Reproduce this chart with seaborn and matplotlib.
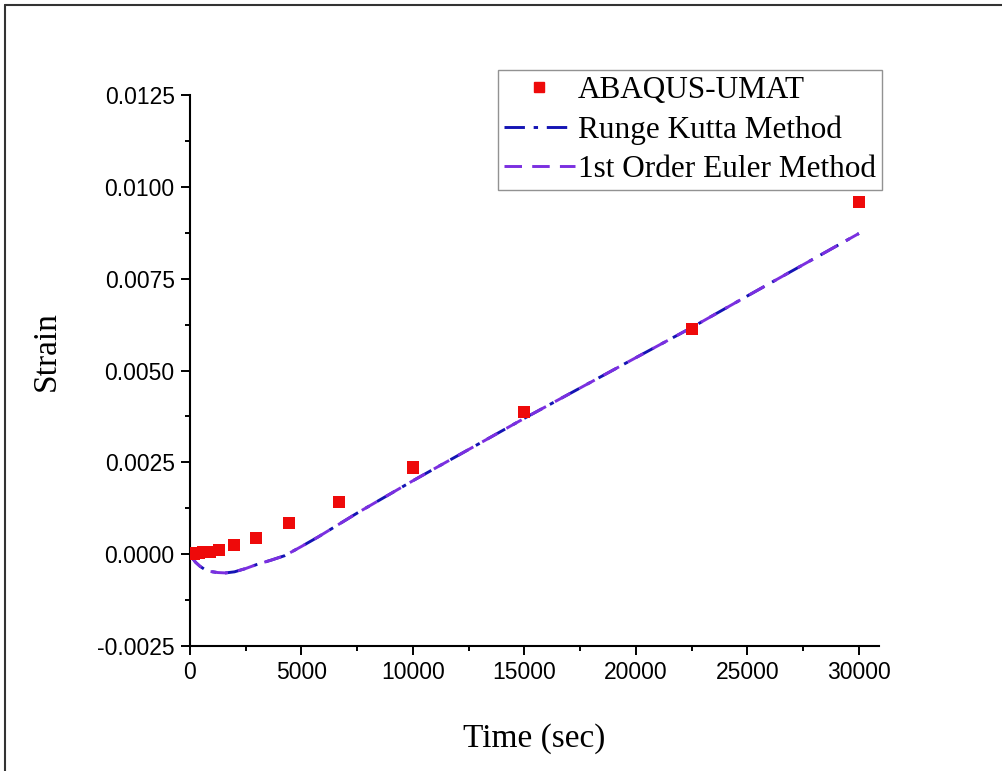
import numpy as np
import pandas as pd
import matplotlib
matplotlib.use("Agg")
import matplotlib.pyplot as plt
from matplotlib.lines import Line2D
from matplotlib.ticker import MultipleLocator
import seaborn as sns

# ABAQUS-UMAT results (squares)
t_abaqus = [0, 173, 260, 390, 585, 878, 1317, 1975, 2963, 4444, 6667, 10000, 15000, 22500, 30000]
strain_abaqus = [0.0, 0.00001, 0.00002, 0.00003, 0.00005, 0.00007, 0.00011, 0.00024, 0.00045,
                 0.00084, 0.00143, 0.00236, 0.00386, 0.00612, 0.00960]

# Runge Kutta / Euler curves (they lie on top of each other)
t_line = [0, 100, 250, 450, 650, 900, 1250, 1600, 2000, 2500, 3000, 3650, 4250, 5000,
          5750, 7500, 10000, 12500, 15000, 20000, 22500, 25000, 30000]
strain_rk = [0.0, -0.0001, -0.00022, -0.00033, -0.00041, -0.00047, -0.0005, -0.00051, -0.00048,
             -0.00039, -0.00028, -0.00016, -0.00004, 0.00021, 0.00047, 0.00112, 0.0020,
             0.00285, 0.0037, 0.00535, 0.00617, 0.00703, 0.00873]
strain_euler = [0.0, -0.0001, -0.00022, -0.00033, -0.00041, -0.00047, -0.0005, -0.00051, -0.00048,
                -0.00039, -0.00028, -0.00016, -0.00004, 0.00021, 0.00047, 0.00112, 0.0020,
                0.00285, 0.0037, 0.00535, 0.00617, 0.00703, 0.00873]

sns.set_style("ticks")
plt.rcParams['font.family'] = ['Liberation Serif', 'DejaVu Serif']
plt.rcParams['text.color'] = 'black'
plt.rcParams['axes.labelcolor'] = 'black'
plt.rcParams['xtick.color'] = 'black'
plt.rcParams['ytick.color'] = 'black'

rk_color = '#1414B4'
eu_color = '#7B2FE0'
sq_color = '#EE0A0A'

fig = plt.figure(figsize=(10.02, 7.71), dpi=100)
ax = fig.add_axes([0.1896, 0.1621, 0.6876, 0.7147])

sns.lineplot(x=t_line, y=strain_rk, ax=ax, color=rk_color, lw=2.1, sort=False, estimator=None)
ax.lines[-1].set_dashes([7, 3, 1.5, 3])
sns.lineplot(x=t_line, y=strain_euler, ax=ax, color=eu_color, lw=2.1, sort=False, estimator=None)
ax.lines[-1].set_dashes([6, 3.5])
sns.scatterplot(x=t_abaqus, y=strain_abaqus, ax=ax, marker='s', s=75, color=sq_color,
                edgecolor='none', zorder=5)

ax.set_xlim(0, 30900)
ax.set_ylim(-0.0025, 0.0125)
ax.xaxis.set_major_locator(MultipleLocator(5000))
ax.xaxis.set_minor_locator(MultipleLocator(2500))
ax.yaxis.set_minor_locator(MultipleLocator(0.00125))
ax.set_yticks([-0.0025, 0.0, 0.0025, 0.005, 0.0075, 0.01, 0.0125])
ax.set_yticklabels(['-0.0025', '0.0000', '0.0025', '0.0050', '0.0075', '0.0100', '0.0125'])

for lbl in ax.get_xticklabels() + ax.get_yticklabels():
    lbl.set_family(['Liberation Sans', 'DejaVu Sans'])
    lbl.set_fontsize(16.5)
ax.tick_params(which='major', direction='out', length=6.5, width=1.4, pad=4.5)
ax.tick_params(which='minor', direction='out', length=3.6, width=1.4)

sns.despine(ax=ax)
for side in ['left', 'bottom']:
    ax.spines[side].set_linewidth(1.5)
    ax.spines[side].set_color('black')

ax.set_xlabel('Time (sec)', fontsize=24, labelpad=28)
ax.set_ylabel('Strain', fontsize=24)
ax.yaxis.set_label_coords(-0.186, 0.535)

handles = [
    Line2D([], [], marker='s', linestyle='none', color=sq_color, markersize=7),
    Line2D([], [], color=rk_color, lw=2.1, dashes=[7, 3, 1.5, 3]),
    Line2D([], [], color=eu_color, lw=2.1, dashes=[6, 3.5]),
]
labels = ['ABAQUS-UMAT', 'Runge Kutta Method', '1st Order Euler Method']
leg = ax.legend(handles, labels, loc='upper right', bbox_to_anchor=(882 / 1002, 1 - 70 / 771),
                bbox_transform=fig.transFigure, borderaxespad=0, fontsize=22.5,
                frameon=True, fancybox=False, edgecolor='#777777', borderpad=0.2,
                handlelength=2.25, handletextpad=0.1, labelspacing=0.32)
leg.get_frame().set_linewidth(1.0)

# outer frame (top and left only)
fig.add_artist(Line2D([5 / 1002, 1.0], [1 - 5 / 771, 1 - 5 / 771], transform=fig.transFigure,
                      color='#333333', lw=1.5))
fig.add_artist(Line2D([5 / 1002, 5 / 1002], [0.0, 1 - 5 / 771], transform=fig.transFigure,
                      color='#333333', lw=1.5))

fig.savefig('out.png', dpi=100)
